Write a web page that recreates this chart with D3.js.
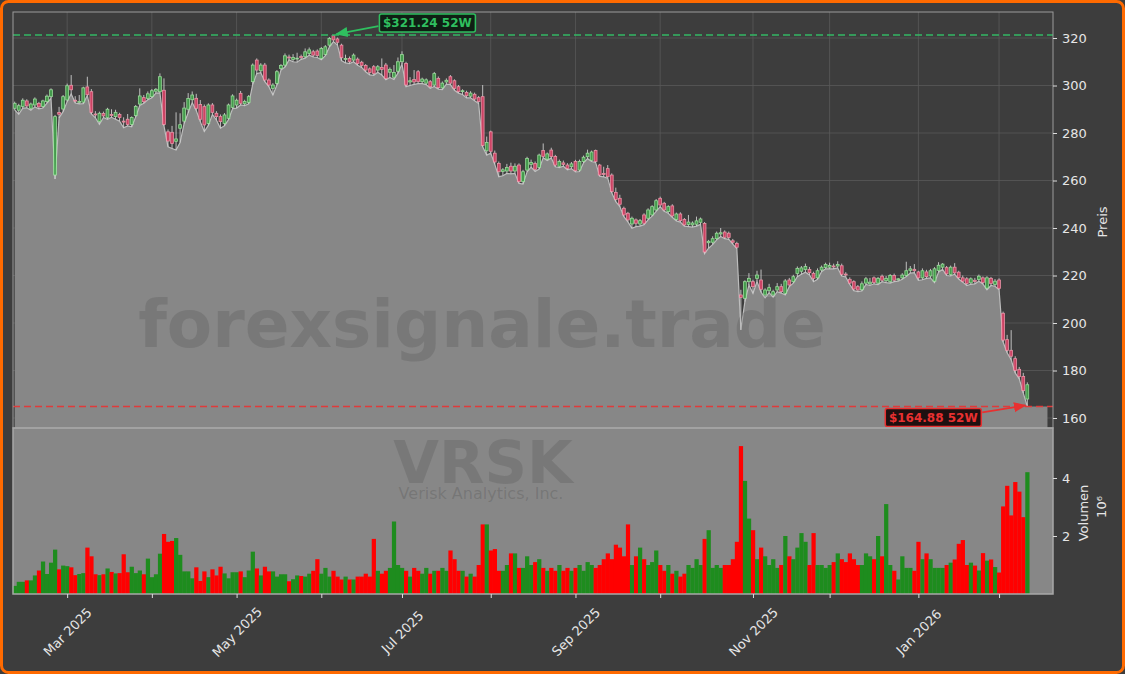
<!DOCTYPE html>
<html>
<head>
<meta charset="utf-8">
<script src="https://cdn.jsdelivr.net/npm/d3@7"></script>
<style>
body { margin: 0; background: #3d3d3d; }
svg { display: block; font-family: 'DejaVu Sans', sans-serif; }
</style>
</head>
<body>
<script>
var width = 1125,
    height = 674;

// daily OHLC, Feb 11 2025 .. Feb 11 2026 (trading days)
var opens = [
 290.4,289.6,291.2,293.5,290.4,291.8,292.4,291.2,293.2,295.3, 262.3,288.6,290.1,293.9,300.1,293.8,292.9,293.0,299.4,297.4,
 288.0,284.8,288.2,286.5,287.8,286.9,287.8,285.0,285.8,283.6, 287.3,292.2,294.9,294.6,295.3,297.6,297.4,298.0,280.5,280.3,
 276.5,282.0,285.0,290.0,294.0,294.6,292.0,291.1,284.0,291.8, 288.3,286.9,284.0,286.2,290.8,291.8,296.7,292.3,292.9,301.6,
 310.7,306.2,308.6,302.3,
 298.8,300.9,307.2,308.6,312.0,311.0,311.2,312.2,312.1,313.5, 314.2,314.5,311.4,313.1,317.0,321.0,319.6,317.0,311.0,311.4,
 310.7,311.1,309.8,308.4,307.0,307.9,306.5,307.6,308.6,305.6, 303.5,306.0,310.0,309.3,301.5,302.5,305.8,301.6,301.0,301.6,
 300.2,303.0,299.0,301.5,303.7,302.0,299.5,297.4,297.1,295.5, 296.3,294.9,295.3,272.5,280.5,271.5,267.2,263.8,264.0,266.0,
 264.0,266.5,259.5,264.4,
 266.8,267.2,265.5,272.6,269.0,272.8,270.1,266.0,267.4,266.5, 265.8,268.0,264.4,268.0,270.0,268.5,272.6,266.5,263.0,265.0,
 262.3,255.0,252.5,248.3,246.2,241.7,243.4,241.7,245.5,244.1, 245.5,247.6,252.5,250.4,246.9,249.3,243.6,245.9,243.6,241.5,
 241.3,241.6,242.4,241.9,233.8,234.0,235.5,237.5,238.3,237.8, 234.6,233.5,211.8,210.4,217.4,217.4,218.8,218.1,211.8,213.6,
 211.8,213.9,215.3,
 212.5,218.1,217.4,220.9,221.8,222.5,222.5,220.9,219.0,222.3, 223.4,223.5,224.0,224.0,224.1,220.6,218.4,217.4,215.3,214.0,
 216.8,216.5,219.0,216.8,219.7,217.8,217.4,220.0,218.2,219.0, 220.0,222.2,222.6,221.5,219.0,221.5,219.8,217.6,222.1,223.5,
 223.3,220.4,223.5,221.4,219.0,218.6,216.9,218.0,218.3,219.0, 214.7,218.8,216.2,218.1,204.1,193.0,188.5,185.0,180.5,177.5,
 168.0
];
var highs = [
 293.2,292.3,294.6,294.2,292.8,295.0,293.1,294.0,296.2,298.8, 287.6,291.0,296.0,300.8,304.4,295.5,296.0,299.5,303.7,298.5,
 289.2,289.0,289.0,290.6,290.0,289.8,288.5,286.6,288.0,287.0, 291.8,298.8,296.0,297.5,298.5,298.9,305.1,303.0,281.5,283.0,
 288.7,288.3,293.0,296.8,297.5,296.5,293.9,292.0,292.5,292.6, 289.2,287.8,288.4,292.4,296.3,294.5,297.7,294.0,296.0,309.3,
 311.4,309.4,309.5,303.0,
 301.0,306.5,309.0,313.5,313.0,313.2,313.8,313.0,315.6,316.0, 315.0,315.2,316.2,317.0,320.4,321.24,320.2,317.6,313.0,312.2,
 313.5,311.8,310.4,309.0,307.6,308.6,308.6,311.4,309.5,307.6, 308.6,311.8,314.4,310.0,303.5,306.5,306.5,303.3,303.0,302.3,
 305.7,303.8,301.7,303.0,304.4,302.6,300.2,298.4,297.8,297.6, 297.0,295.6,300.2,278.5,281.0,272.6,268.0,265.2,267.0,267.5,
 267.2,267.2,264.5,270.0,
 268.8,268.0,271.3,275.6,271.8,273.8,270.8,268.8,268.4,267.3, 267.8,268.7,268.8,270.5,273.0,272.6,273.0,267.0,265.8,266.5,
 263.0,257.0,254.0,249.0,246.8,244.8,244.0,243.8,246.2,248.3, 249.6,252.2,253.2,251.0,249.6,250.0,246.5,246.6,244.2,245.5,
 242.8,244.8,244.4,242.5,235.0,236.5,238.5,240.0,239.0,238.5, 235.4,234.2,214.0,218.0,221.0,218.2,222.0,222.5,214.6,216.5,
 214.0,216.8,216.5,
 218.5,219.0,220.3,223.8,224.0,225.0,223.6,221.6,223.0,224.2, 225.4,225.4,225.0,226.0,225.0,221.4,219.2,218.0,216.0,217.5,
 219.4,219.0,219.6,219.4,220.4,219.8,220.6,220.8,219.0,221.0, 225.8,224.0,224.8,222.0,223.0,222.4,222.8,223.5,225.6,225.2,
 224.0,224.2,225.2,222.0,220.0,219.3,219.2,219.0,220.4,219.6, 219.7,219.4,218.5,218.8,204.8,195.0,197.0,186.0,181.5,179.0,
 175.0
];
var lows = [
 289.7,287.9,290.5,290.6,289.6,291.0,290.2,290.5,292.6,294.6, 260.6,286.4,289.0,293.2,296.5,292.6,292.3,292.4,295.8,288.0,
 286.4,283.6,286.5,285.8,286.6,285.8,285.0,282.2,283.0,282.6, 286.8,291.6,292.5,294.0,294.8,296.8,296.9,283.0,274.2,273.5,
 272.8,276.0,284.0,288.5,292.8,289.5,284.8,280.6,283.2,287.8, 285.5,282.0,283.0,285.6,290.2,290.5,291.8,291.5,292.3,300.5,
 305.0,305.4,301.6,299.5,
 296.0,300.2,306.5,307.8,310.8,310.0,309.8,311.0,311.5,312.8, 312.0,311.8,310.8,312.6,316.2,318.5,317.0,310.5,309.5,309.2,
 310.0,308.5,307.6,305.8,304.5,304.3,305.6,304.4,302.4,303.4, 302.5,305.2,309.0,299.5,300.0,300.5,300.8,300.8,300.4,298.8,
 299.6,298.5,298.3,300.6,300.4,298.0,296.8,296.2,294.8,294.8, 293.6,292.4,274.2,270.7,271.5,266.8,261.6,262.0,263.0,262.8,
 263.0,258.8,258.5,263.6,
 265.6,263.8,264.8,269.6,268.4,269.5,265.8,265.4,266.0,264.5, 265.0,263.6,263.8,267.4,269.2,268.0,267.6,261.8,261.5,261.0,
 254.8,251.1,249.0,244.8,242.6,239.9,240.6,240.8,241.4,243.4, 245.0,247.0,249.0,247.0,246.2,244.5,243.0,242.5,240.8,240.6,
 240.4,240.8,241.5,229.2,231.5,233.0,235.0,236.4,235.5,235.2, 233.2,231.3,197.1,209.0,216.0,212.5,217.5,213.0,210.5,212.8,
 210.8,213.2,212.6,
 211.8,215.3,216.8,219.5,220.5,221.4,220.2,217.4,218.4,221.6, 222.8,222.8,222.8,223.2,219.8,219.4,216.2,213.6,213.2,213.5,
 216.2,215.8,216.5,216.2,217.4,217.0,216.8,217.4,217.6,218.4, 219.6,221.0,221.2,218.0,218.2,218.8,219.0,217.0,221.4,222.6,
 220.0,219.8,220.5,218.5,217.2,215.8,216.3,216.5,217.6,216.4, 214.0,215.8,215.5,214.0,192.0,187.5,184.5,179.0,176.5,170.5,
 164.88
];
var closes = [
 292.5,291.5,293.8,291.4,292.2,294.3,291.0,293.5,295.5,298.2, 286.9,287.9,295.3,299.9,298.2,293.4,293.3,299.0,296.1,288.7,
 287.6,288.3,287.2,290.0,287.4,288.7,286.5,284.6,283.6,286.5, 291.2,295.6,293.2,296.5,297.8,298.4,303.7,283.6,276.6,275.6,
 277.5,283.5,290.5,294.5,296.0,290.4,285.8,283.4,291.8,288.7, 286.9,284.8,287.6,291.8,295.6,293.8,292.5,293.3,295.3,308.6,
 306.5,308.6,302.3,300.2,
 300.2,305.8,308.4,312.5,311.6,311.8,311.5,311.7,314.2,315.0, 312.8,312.6,315.6,316.3,319.8,319.2,318.2,311.7,311.4,310.0,
 312.8,309.3,308.4,306.5,305.5,305.1,307.9,306.8,303.0,306.8, 305.5,310.0,313.0,300.2,302.0,301.5,301.6,302.7,302.4,299.5,
 305.0,299.1,301.0,302.2,301.0,298.8,297.4,297.8,295.7,296.8, 294.3,293.2,274.7,276.0,272.3,267.8,263.7,264.5,265.5,264.0,
 266.0,259.5,263.7,269.3,
 267.6,264.7,270.7,270.1,271.2,270.1,266.5,268.0,266.8,265.1, 267.0,264.1,268.0,269.8,271.5,272.0,268.0,262.3,262.5,261.6,
 255.3,252.0,250.0,245.5,243.4,244.1,242.0,243.1,242.0,247.6, 249.0,251.5,249.7,247.6,249.0,245.1,245.9,243.1,241.3,242.5,
 242.1,243.0,243.8,229.9,234.4,235.5,237.8,238.0,236.1,236.0, 234.0,231.9,210.8,217.4,218.8,215.3,220.2,214.2,213.9,214.9,
 213.2,215.3,213.2,
 217.7,216.0,219.5,223.0,223.2,223.8,221.2,218.8,222.0,223.5, 224.6,224.2,223.6,224.6,220.5,220.2,216.8,214.3,213.9,216.5,
 218.6,217.2,217.1,218.8,218.0,218.8,220.0,218.0,218.6,220.2, 222.0,222.8,222.0,219.0,222.0,219.5,222.0,222.8,224.3,224.8,
 220.7,223.5,221.1,219.1,217.6,216.6,218.6,217.5,219.7,217.1, 219.0,216.7,217.6,214.6,192.8,188.5,186.0,180.0,177.5,171.5,
 174.0
];
// volume in millions
var volumes = [
 0.28,0.42,0.42,0.47,0.47,0.64,0.81,1.12,0.69,1.08, 1.53,0.85,0.98,0.96,0.92,0.65,0.69,0.72,1.6,1.3,
 0.68,0.65,0.68,0.88,0.76,0.71,0.72,1.37,0.75,0.94, 0.72,0.81,0.68,1.22,0.58,0.68,1.39,2.07,1.8,1.83,
 1.93,1.35,0.78,0.78,0.54,0.92,0.45,0.78,0.58,0.85, 0.64,0.94,0.71,0.54,0.75,0.75,0.78,0.58,0.81,1.46,
 0.88,0.64,0.94,0.78,0.78,0.6,0.68,0.68,0.44,0.51, 0.64,0.62,
 0.6,0.7,0.8,1.2,0.7,0.9,0.6,0.8,0.6,0.5, 0.6,0.5,0.5,0.6,0.6,0.7,0.6,1.9,0.8,0.7,
 0.8,0.9,2.5,1.0,0.9,0.8,0.6,0.9,0.8,0.7, 0.9,0.7,0.8,0.8,0.9,0.8,1.5,1.2,0.8,0.8,
 0.6,0.7,0.6,1.0,2.4,2.4,1.5,1.55,0.8,0.8, 1.0,1.4,1.4,0.9,0.9,1.3,1.0,1.1,1.2,0.9,
 0.8,0.9,0.8,1.0,0.8,0.9,0.8,0.9,1.0,0.8, 1.1,1.0,0.9,1.0,1.2,1.4,1.2,1.7,1.6,1.3,
 2.4,1.0,1.3,1.6,1.2,1.0,1.1,1.5,1.0,0.8, 1.0,0.7,0.8,0.6,0.7,1.0,0.9,1.2,1.0,1.9,
 2.2,0.9,1.0,0.9,1.0,1.0,1.2,1.8,5.1,3.9, 2.6,2.2,1.2,1.6,1.3,1.0,1.2,0.9,1.0,2.0,
 1.3,1.2,1.6,2.1,1.8,1.0,2.1,1.0,1.0,0.9, 1.0,1.1,1.4,1.2,1.1,1.4,1.2,1.0,1.0,1.4,
 1.3,1.2,2.0,1.3,3.1,1.0,0.8,0.5,1.3,0.9, 0.9,0.8,1.8,1.2,1.4,1.2,0.9,0.9,0.9,1.0,
 1.08,1.19,1.73,1.86,1.0,1.08,0.98,0.81,1.41,1.15, 1.19,0.93,0.74,3.02,3.73,2.71,3.86,3.53,2.65,4.2
];
var holidays = ['2025-02-17','2025-04-18','2025-05-26','2025-06-19','2025-07-04',
                '2025-09-01','2025-11-27','2025-12-25','2026-01-01','2026-01-19'];
var priceTicks = [160,180,200,220,240,260,280,300,320];
var volTicks = [2,4];
var high52 = 321.24, low52 = 164.88;

var fmtKey = d3.timeFormat('%Y-%m-%d');
var dates = [];
var day = new Date(2025, 1, 11);
while (day <= new Date(2026, 1, 11)) {
	if (day.getDay() != 0 && day.getDay() != 6 && holidays.indexOf(fmtKey(day)) < 0) dates.push(day);
	day = d3.timeDay.offset(day, 1);
}

var data = dates.map(function(d, i) {
	return {i: i, date: d, open: opens[i], high: highs[i], low: lows[i], close: closes[i], volume: volumes[i]};
});

// first trading day of every month -> tick positions
var monthStarts = [];
data.forEach(function(d, i) {
	if (i > 0 && d.date.getMonth() != dates[i - 1].getMonth()) monthStarts.push(i);
});

var left = 13, right = 1053,
	pTop = 12, pBottom = 428, vBottom = 594;

var x = d3.scaleLinear().domain([0, dates.length - 1]).range([14.7, 1027.3]);
var y = d3.scaleLinear().domain([160, 320]).range([418, 38]);
var yv = d3.scaleLinear().domain([0, 4]).range([vBottom, 478]);
var step = x(1) - x(0);

var svg = d3.select('body')
	.append('svg')
	.attr('width', width)
	.attr('height', height);

var defs = svg.append('defs');
defs.append('clipPath').attr('id', 'pclip')
	.append('rect').attr('x', left).attr('y', pTop).attr('width', right - left).attr('height', pBottom - pTop);
[['arrG', '#2fbf5f'], ['arrR', '#e83030']].forEach(function(m) {
	defs.append('marker')
		.attr('id', m[0])
		.attr('viewBox', '0 0 10 10')
		.attr('refX', 9).attr('refY', 5)
		.attr('markerWidth', 7).attr('markerHeight', 7)
		.attr('orient', 'auto')
		.append('path').attr('d', 'M0,1 L10,5 L0,9 Z').attr('fill', m[1]);
});

svg.append('rect')
	.attr('x', 1.5).attr('y', 1.5)
	.attr('width', width - 3).attr('height', height - 3)
	.attr('rx', 7)
	.attr('fill', '#3d3d3d')
	.attr('stroke', '#ff6a00')
	.attr('stroke-width', 3);

// grid
var grid = svg.append('g').attr('stroke', '#595959').attr('stroke-width', 0.8);
grid.selectAll('.hg').data(priceTicks).enter().append('line')
	.attr('x1', left).attr('x2', right)
	.attr('y1', function(d) { return y(d); })
	.attr('y2', function(d) { return y(d); });
grid.selectAll('.vg').data(monthStarts).enter().append('line')
	.attr('x1', function(d) { return x(d); })
	.attr('x2', function(d) { return x(d); })
	.attr('y1', pTop).attr('y2', pBottom);

// area under the lows, carried on to the right edge
var areaData = data.concat([{i: dates.length + 4, low: lows[lows.length - 1]}]);
var area = d3.area()
	.x(function(d) { return x(d.i); })
	.y0(pBottom)
	.y1(function(d) { return y(d.low); });
var lowLine = d3.line()
	.x(function(d) { return x(d.i); })
	.y(function(d) { return y(d.low); });

var plot = svg.append('g').attr('clip-path', 'url(#pclip)');
plot.append('path').datum(areaData).attr('d', area).attr('fill', '#878787');
plot.append('path').datum(data).attr('d', lowLine)
	.attr('fill', 'none').attr('stroke', '#bdbdbd').attr('stroke-width', 1.2);

plot.append('text')
	.attr('x', 482).attr('y', 347)
	.attr('text-anchor', 'middle')
	.attr('font-size', 66).attr('font-weight', 'bold')
	.attr('fill', '#3a3a3a').attr('fill-opacity', 0.18)
	.text('forexsignale.trade');

// volume panel
svg.append('rect')
	.attr('x', left).attr('y', pBottom)
	.attr('width', right - left).attr('height', vBottom - pBottom)
	.attr('fill', '#878787');

svg.append('text')
	.attr('x', 483).attr('y', 483)
	.attr('text-anchor', 'middle')
	.attr('font-size', 59).attr('font-weight', 'bold')
	.attr('fill', '#3a3a3a').attr('fill-opacity', 0.18)
	.text('VRSK');
svg.append('text')
	.attr('x', 481).attr('y', 499)
	.attr('text-anchor', 'middle')
	.attr('font-size', 16)
	.attr('fill', '#3a3a3a').attr('fill-opacity', 0.22)
	.text('Verisk Analytics, Inc.');

svg.append('g').selectAll('rect').data(data).enter().append('rect')
	.attr('x', function(d) { return x(d.i) - step / 2; })
	.attr('y', function(d) { return yv(d.volume); })
	.attr('width', step + 0.2)
	.attr('height', function(d) { return vBottom - yv(d.volume); })
	.attr('fill', function(d) { return d.close >= d.open ? '#1e8c1e' : '#ff0000'; });

// candles
var candle = plot.append('g').selectAll('g').data(data).enter().append('g')
	.attr('opacity', 0.88);
candle.append('line')
	.attr('x1', function(d) { return x(d.i); })
	.attr('x2', function(d) { return x(d.i); })
	.attr('y1', function(d) { return y(d.high); })
	.attr('y2', function(d) { return y(d.low); })
	.attr('stroke', '#d2d2d2')
	.attr('stroke-width', 1);
candle.append('rect')
	.attr('x', function(d) { return x(d.i) - 1.4; })
	.attr('y', function(d) { return y(Math.max(d.open, d.close)); })
	.attr('width', 2.8)
	.attr('height', function(d) { return Math.max(0.8, Math.abs(y(d.open) - y(d.close))); })
	.attr('fill', function(d) { return d.close >= d.open ? '#45a84f' : '#e0446a'; })
	.attr('stroke', function(d) { return d.close >= d.open ? '#a6f0a6' : '#ff9fb4'; })
	.attr('stroke-width', 0.8);

// 52 week high / low
var iHigh = d3.maxIndex(highs), iLow = d3.minIndex(lows);
var hx = x(iHigh), hy = y(high52);
var lx = x(iLow), ly = y(low52);

svg.append('line')
	.attr('x1', left).attr('x2', right).attr('y1', hy).attr('y2', hy)
	.attr('stroke', '#33b864').attr('stroke-width', 1.5).attr('stroke-dasharray', '7,4');
svg.append('line')
	.attr('x1', left).attr('x2', right).attr('y1', ly).attr('y2', ly)
	.attr('stroke', '#e03a3a').attr('stroke-width', 1.5).attr('stroke-dasharray', '7,4');

function tag(cx, cy, txt, col, bg, ax, ay, tx, ty, marker) {
	svg.append('line')
		.attr('x1', ax).attr('y1', ay).attr('x2', tx).attr('y2', ty)
		.attr('stroke', col).attr('stroke-width', 1.8)
		.attr('marker-end', 'url(#' + marker + ')');
	svg.append('rect')
		.attr('x', cx - 48).attr('y', cy - 9)
		.attr('width', 96).attr('height', 18)
		.attr('rx', 2)
		.attr('fill', bg).attr('stroke', col).attr('stroke-width', 1.5);
	svg.append('text')
		.attr('x', cx).attr('y', cy)
		.attr('dy', '0.36em')
		.attr('text-anchor', 'middle')
		.attr('font-size', 12).attr('font-weight', 'bold')
		.attr('fill', col)
		.text(txt);
}
tag(hx + 94, hy - 12, '$' + high52.toFixed(2) + ' 52W', '#2fbf5f', '#0f1f14', hx + 45, hy - 9, hx + 3, hy - 1, 'arrG');
tag(lx - 94, ly + 11, '$' + low52.toFixed(2) + ' 52W', '#e83030', '#1f1010', lx - 45, ly + 6, lx - 2, ly - 1, 'arrR');

// spines
svg.append('rect')
	.attr('x', left).attr('y', pTop).attr('width', right - left).attr('height', pBottom - pTop)
	.attr('fill', 'none').attr('stroke', '#9c9c9c').attr('stroke-width', 1);
svg.append('rect')
	.attr('x', left).attr('y', pBottom).attr('width', right - left).attr('height', vBottom - pBottom)
	.attr('fill', 'none').attr('stroke', '#a8a8a8').attr('stroke-width', 1.5);

// axes
var yAxis = svg.append('g')
	.attr('transform', 'translate(' + right + ',0)')
	.call(d3.axisRight(y).tickValues(priceTicks).tickSize(4).tickPadding(5));
var vAxis = svg.append('g')
	.attr('transform', 'translate(' + right + ',0)')
	.call(d3.axisRight(yv).tickValues(volTicks).tickSize(4).tickPadding(5).tickFormat(d3.format('d')));
var xAxis = svg.append('g')
	.attr('transform', 'translate(0,' + vBottom + ')')
	.call(d3.axisBottom(x).tickValues(monthStarts).tickSize(4)
		.tickFormat(function(i) { return dates[i].getMonth() % 2 == 0 ? d3.timeFormat('%b %Y')(dates[i]) : ''; }));

[yAxis, vAxis, xAxis].forEach(function(a) {
	a.select('.domain').remove();
	a.selectAll('line').attr('stroke', '#dddddd');
	a.selectAll('text').attr('fill', '#e6e6e6').attr('font-size', 13).attr('font-family', 'DejaVu Sans');
});
xAxis.selectAll('text')
	.attr('y', 0).attr('dy', '0.35em')
	.attr('text-anchor', 'middle')
	.attr('transform', 'translate(0,38) rotate(-45)');

svg.append('text')
	.attr('transform', 'translate(1107,222) rotate(-90)')
	.attr('text-anchor', 'middle')
	.attr('font-size', 13).attr('fill', '#e6e6e6')
	.text('Preis');
svg.append('text')
	.attr('transform', 'translate(1088,513) rotate(-90)')
	.attr('text-anchor', 'middle')
	.attr('font-size', 13).attr('fill', '#e6e6e6')
	.text('Volumen');
svg.append('text')
	.attr('transform', 'translate(1106,507) rotate(-90)')
	.attr('text-anchor', 'middle')
	.attr('font-size', 13).attr('fill', '#e6e6e6')
	.text('10⁶');
</script>
</body>
</html>
